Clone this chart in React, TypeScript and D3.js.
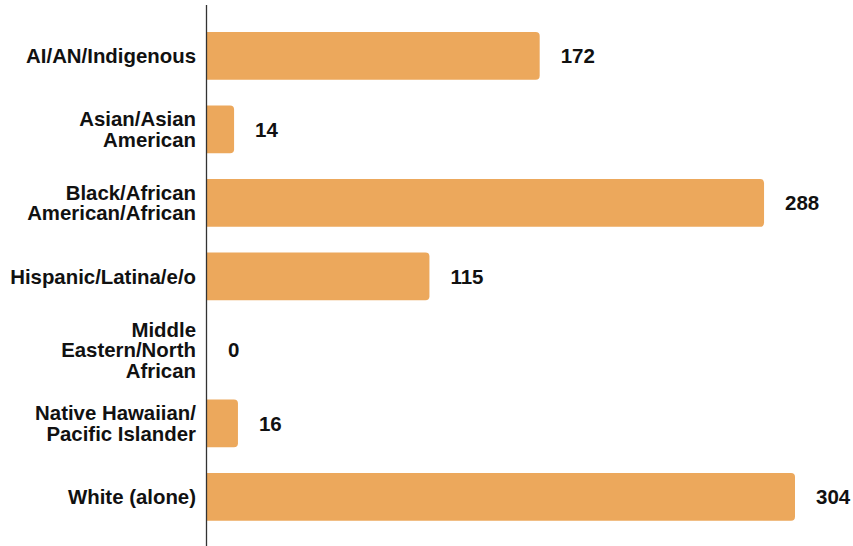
import React from "react";
import * as d3 from "d3";

const categories: string[][] = [
  ["AI/AN/Indigenous"],
  ["Asian/Asian", "American"],
  ["Black/African", "American/African"],
  ["Hispanic/Latina/e/o"],
  ["Middle", "Eastern/North", "African"],
  ["Native Hawaiian/", "Pacific Islander"],
  ["White (alone)"],
];
const values: number[] = [172, 14, 288, 115, 0, 16, 304];

const W = 853;
const H = 546;
const axisX = 206.5;
const barColor = "#ECA85C";
const font = "'Liberation Sans', Arial, Helvetica, sans-serif";

function barPath(x0: number, x1: number, y0: number, h: number, r: number) {
  const w = x1 - x0;
  if (w <= 0) return "";
  const rr = Math.min(r, w, h / 2);
  const p = d3.path();
  p.moveTo(x0, y0);
  p.lineTo(x1 - rr, y0);
  p.quadraticCurveTo(x1, y0, x1, y0 + rr);
  p.lineTo(x1, y0 + h - rr);
  p.quadraticCurveTo(x1, y0 + h, x1 - rr, y0 + h);
  p.lineTo(x0, y0 + h);
  p.closePath();
  return p.toString();
}

export default function App() {
  const keys = categories.map((c) => c.join(" "));
  const y = d3
    .scaleBand<string>()
    .domain(keys)
    .range([19.2, 533.7])
    .paddingInner(0.35)
    .paddingOuter(0.175);
  const x = d3.scaleLinear().domain([0, 304]).range([207, 795]);
  const lineH = 20.5;

  return (
    <svg
      width={W}
      height={H}
      style={{ position: "absolute", left: 0, top: 0, background: "#fff" }}
    >
      {keys.map((k, i) => {
        const y0 = y(k)!;
        const bh = y.bandwidth();
        const cy = y0 + bh / 2;
        const lines = categories[i];
        const startY = cy - ((lines.length - 1) * lineH) / 2;
        return (
          <g key={k}>
            <path d={barPath(x(0), x(values[i]), y0, bh, 4)} fill={barColor} />
            <text
              x={x(values[i]) + 21}
              y={cy}
              dy="0.35em"
              fontFamily={font}
              fontWeight="bold"
              fontSize={20.5}
              fill="#111"
            >
              {values[i]}
            </text>
            <text
              textAnchor="end"
              fontFamily={font}
              fontWeight="bold"
              fontSize={20.4}
              fill="#111"
            >
              {lines.map((l, j) => (
                <tspan key={j} x={196} y={startY + j * lineH} dy="0.35em">
                  {l}
                </tspan>
              ))}
            </text>
          </g>
        );
      })}
      <line x1={axisX} x2={axisX} y1={5} y2={H} stroke="#333" strokeWidth={1.3} />
    </svg>
  );
}
